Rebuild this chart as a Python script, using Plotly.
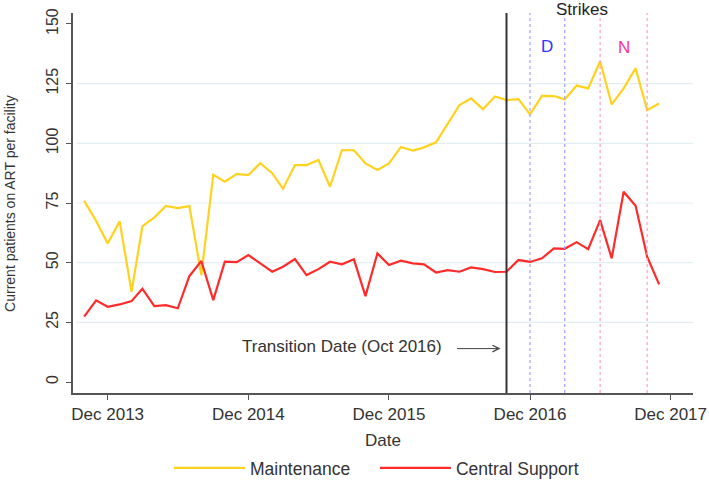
import plotly.graph_objects as go
import pandas as pd

dates = pd.date_range("2013-10-01", "2017-11-01", freq="MS").strftime("%Y-%m-%d").tolist()

maintenance = [75.9, 67.5, 58.0, 67.3, 37.8, 65.2, 69.0, 73.8, 72.9, 73.7,
               44.8, 86.8, 83.9, 87.2, 86.7, 91.7, 87.5, 81.0, 90.9, 90.9,
               93.0, 81.8, 97.2, 97.1, 91.6, 88.8, 91.6, 98.5, 97.0, 98.3,
               100.4, 108.3, 116.0, 118.8, 114.3, 119.6, 118.1, 118.5, 112.1, 119.9,
               119.8, 118.4, 124.2, 123.0, 134.4, 116.3, 123.0, 131.4, 113.9, 116.7]

central_support = [27.4, 34.2, 31.5, 32.5, 33.9, 39.1, 31.8, 32.2, 30.9, 44.4,
                   50.7, 34.3, 50.4, 50.2, 53.2, 49.7, 46.2, 48.3, 51.5, 44.8,
                   47.3, 50.4, 49.3, 51.4, 36.0, 53.9, 49.0, 50.8, 49.7, 49.3,
                   45.9, 46.9, 46.2, 48.0, 47.3, 46.1, 46.2, 51.1, 50.3, 51.8,
                   56.0, 55.8, 58.6, 55.7, 67.8, 51.8, 79.7, 73.8, 52.5, 40.9]

tick_dates = ["2013-12-01", "2014-12-01", "2015-12-01", "2016-12-01", "2017-12-01"]
tick_labels = ["Dec 2013", "Dec 2014", "Dec 2015", "Dec 2016", "Dec 2017"]
y_ticks = [0, 25, 50, 75, 100, 125, 150]
y_grid = [25, 50, 75, 100, 125]

transition_date = "2016-10-01"
strike_d = ["2016-12-01", "2017-03-01"]
strike_n = ["2017-06-01", "2017-10-01"]

FONT = "Liberation Sans, Arial, sans-serif"
TXT = "#333333"

fig = go.Figure()
fig.add_trace(go.Scatter(x=dates, y=maintenance, mode="lines", name="Maintenance",
                         line=dict(color="#FFD21F", width=2.2)))
fig.add_trace(go.Scatter(x=dates, y=central_support, mode="lines", name="Central Support",
                         line=dict(color="#FF2B2B", width=2.2)))

shapes = []
for g in y_grid:
    shapes.append(dict(type="line", xref="paper", yref="y", x0=0.006, x1=1, y0=g, y1=g,
                       layer="below", line=dict(color="#E3EEF2", width=1.2)))
shapes.append(dict(type="line", xref="x", yref="paper", x0=transition_date, x1=transition_date,
                   y0=0, y1=1, line=dict(color="#333333", width=2)))
for d in strike_d:
    shapes.append(dict(type="line", xref="x", yref="paper", x0=d, x1=d, y0=0, y1=1,
                       line=dict(color="#A0A0FF", width=1.2, dash="dot")))
for d in strike_n:
    shapes.append(dict(type="line", xref="x", yref="paper", x0=d, x1=d, y0=0, y1=1,
                       line=dict(color="#FF9CCB", width=1.2, dash="dot")))

annotations = [
    dict(x=transition_date, y=14.8, xref="x", yref="y", text="Transition Date (Oct 2016)",
         showarrow=False, xanchor="right", xshift=-63, font=dict(size=17, color=TXT, family=FONT)),
    dict(x=transition_date, y=14.0, xref="x", yref="y", text="", showarrow=True,
         ax=-45, ay=0, xshift=-6, arrowhead=5, arrowsize=1.3, arrowwidth=1, arrowcolor="#444444",
         standoff=0),
    dict(x="2017-04-15", y=1.008, xref="x", yref="paper", text="Strikes", showarrow=False,
         yanchor="middle", font=dict(size=17, color="#222222", family=FONT)),
    dict(x="2017-01-15", y=140.4, xref="x", yref="y", text="D", showarrow=False,
         font=dict(size=17, color="#3535FF", family=FONT)),
    dict(x="2017-08-01", y=140.0, xref="x", yref="y", text="N", showarrow=False,
         font=dict(size=17, color="#FF3399", family=FONT)),
    dict(x=-0.105, y=0.5, xref="paper", yref="paper", text="Current patients on ART per facility",
         textangle=-90, showarrow=False, xshift=-8, font=dict(size=14, color=TXT, family=FONT)),
    dict(x=0.5, y=-0.124, xref="paper", yref="paper", text="Date", showarrow=False,
         yanchor="middle", font=dict(size=17, color=TXT, family=FONT)),
]

fig.update_layout(
    width=709, height=480, autosize=False,
    margin=dict(l=73, r=16, t=13, b=87),
    paper_bgcolor="white", plot_bgcolor="white",
    font=dict(family=FONT, color=TXT),
    shapes=shapes, annotations=annotations,
    showlegend=True,
    legend=dict(orientation="h", x=0.487, xanchor="center", yref="container", y=0.025,
                yanchor="middle", font=dict(size=17.5, color=TXT, family=FONT),
                itemwidth=71, entrywidth=120),
    xaxis=dict(type="date", range=["2013-09-02", "2018-01-28"], automargin=False,
               tickvals=tick_dates, ticktext=tick_labels, ticks="outside", ticklen=5,
               tickcolor="#555555", tickfont=dict(size=17, color=TXT),
               showline=True, linecolor="#555555", linewidth=1.5, showgrid=False, zeroline=False),
    yaxis=dict(range=[-4.6, 154.6], tickvals=y_ticks, tickangle=-90, ticks="outside", ticklen=5,
               automargin=False, ticklabelstandoff=2,
               tickcolor="#555555", tickfont=dict(size=16, color=TXT),
               showline=True, linecolor="#555555", linewidth=2,
               showgrid=False, zeroline=False),
)
fig.write_html("out.html", config={"displayModeBar": False},
               post_script="document.body.style.margin='0';document.body.style.overflow='hidden';")
